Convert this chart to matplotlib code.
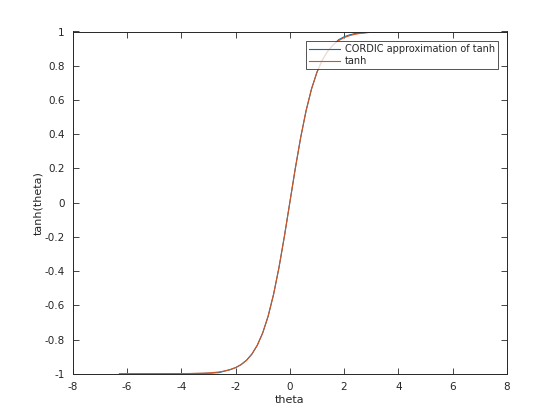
import matplotlib
matplotlib.use("Agg")
import matplotlib.pyplot as plt

plt.rcParams["font.family"] = ["DejaVu Sans"]

# values
theta = [-6.28, -5.0, -4.0, -3.2, -2.9, -2.6, -2.4, -2.2, -2.0, -1.8, -1.6, -1.4,
         -1.2, -1.0, -0.8, -0.6, -0.4, -0.2, 0.0, 0.2, 0.4, 0.6, 0.8, 1.0,
         1.2, 1.4, 1.6, 1.8, 2.0, 2.2, 2.4, 2.6, 2.9, 3.2, 4.0, 5.0, 6.0]
tanh_vals = [-1.0, -0.9999, -0.9993, -0.9967, -0.994, -0.989, -0.9837, -0.9757,
             -0.964, -0.9468, -0.9217, -0.8854, -0.8337, -0.7616, -0.664, -0.537,
             -0.3799, -0.1974, 0.0, 0.1974, 0.3799, 0.537, 0.664, 0.7616,
             0.8337, 0.8854, 0.9217, 0.9468, 0.964, 0.9757, 0.9837, 0.989,
             0.994, 0.9967, 0.9993, 0.9999, 1.0]
cordic_vals = [-1.0, -0.9999, -0.9993, -0.9975, -0.996, -0.993, -0.9837, -0.9757,
               -0.964, -0.9468, -0.9217, -0.8854, -0.8337, -0.7616, -0.664, -0.537,
               -0.3799, -0.1974, 0.0, 0.1974, 0.3799, 0.537, 0.664, 0.7616,
               0.8337, 0.8854, 0.9217, 0.952, 0.969, 0.98, 0.988, 0.991,
               0.995, 0.9967, 0.9993, 0.9999, 1.0]

xticks = [-8, -6, -4, -2, 0, 2, 4, 6, 8]
yticks = [-1, -0.8, -0.6, -0.4, -0.2, 0, 0.2, 0.4, 0.6, 0.8, 1]

dark = "#262626"

fig = plt.figure(figsize=(5.6, 4.2), dpi=100)
ax = fig.add_axes([0.13, 0.11, 0.775, 0.815])

ax.plot(theta, cordic_vals, color="#0072BD", lw=0.8, label="CORDIC approximation of tanh")
ax.plot(theta, tanh_vals, color="#D95319", lw=0.8, label="tanh")

ax.set_xlim(-8, 8)
ax.set_ylim(-1, 1)
ax.set_xticks(xticks)
ax.set_xticklabels([str(t) for t in xticks])
ax.set_yticks(yticks)
ax.set_yticklabels(["-1", "-0.8", "-0.6", "-0.4", "-0.2", "0", "0.2", "0.4", "0.6", "0.8", "1"])
ax.tick_params(direction="in", top=True, right=True, length=4, width=0.6,
               colors=dark, labelsize=7.5, pad=6)
for s in ax.spines.values():
    s.set_color(dark)
    s.set_linewidth(0.7)

ax.set_xlabel("theta", fontsize=8, color=dark, labelpad=2)
ax.set_ylabel("tanh(theta)", fontsize=8, color=dark, labelpad=1)

leg = ax.legend(loc="upper right", fontsize=7, frameon=True, fancybox=False,
                handlelength=3.2, borderpad=0.3, labelspacing=0.2,
                handletextpad=0.5, borderaxespad=0,
                bbox_to_anchor=(0.98, 0.972))
leg.get_frame().set_edgecolor(dark)
leg.get_frame().set_linewidth(0.7)
for t in leg.get_texts():
    t.set_color(dark)

fig.savefig("out.png", dpi=100)
